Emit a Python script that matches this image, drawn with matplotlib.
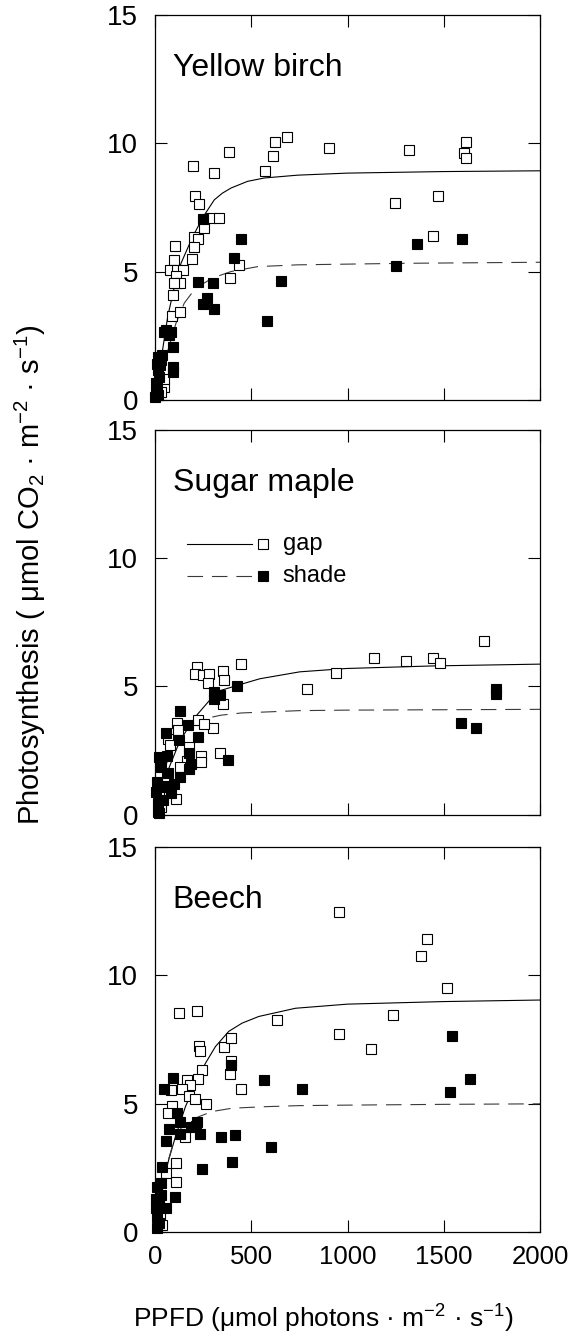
import matplotlib
matplotlib.use('Agg')
import matplotlib.pyplot as plt

plt.rcParams['font.family'] = 'Liberation Sans'
plt.rcParams['mathtext.fontset'] = 'custom'
plt.rcParams['mathtext.rm'] = 'Liberation Sans'
plt.rcParams['mathtext.it'] = 'Liberation Sans:italic'

# Yellow birch
birch_gap_x = [197, 308, 383, 210, 230, 291, 334, 256, 204, 225, 204, 192, 104, 100, 78, 114, 144, 109, 114, 130,
               99, 95, 88, 128, 435, 390, 570, 615, 625, 686, 904, 1318, 1249, 1444, 1469, 1606, 1614, 1614, 48, 45, 30]
birch_gap_y = [9.12, 8.83, 9.66, 7.95, 7.61, 7.10, 7.10, 6.68, 6.34, 6.26, 5.97, 5.47, 6.01, 5.45, 5.04, 5.06, 5.04, 4.81, 4.57, 4.55,
               4.57, 4.09, 3.27, 3.43, 5.27, 4.75, 8.91, 9.48, 10.04, 10.23, 9.82, 9.71, 7.68, 6.38, 7.95, 9.61, 10.03, 9.40, 0.49, 0.81, 0.30]
birch_shade_x = [251, 445, 409, 222, 301, 270, 248, 308, 584, 655, 1254, 1361, 1595, 57, 48, 74, 83, 92, 95, 95,
                 14, 31, 14, 5, 5, 0, 20, 25, 10, 35, 8, 18]
birch_shade_y = [7.06, 6.27, 5.51, 4.60, 4.57, 3.97, 3.74, 3.56, 3.06, 4.65, 5.23, 6.08, 6.25, 2.73, 2.66, 2.53, 2.66, 2.08, 1.27, 1.10,
                 1.69, 1.56, 1.17, 0.65, 0.32, 0.10, 0.90, 1.35, 0.45, 1.75, 1.40, 0.20]
birch_gap_fit_x = [0, 30, 66, 97, 135, 196, 251, 308, 350, 395, 481, 568, 741, 1000, 1500, 2000]
birch_gap_fit_y = [0, 1.5, 3.25, 4.29, 5.32, 6.36, 7.14, 7.79, 8.05, 8.25, 8.51, 8.64, 8.75, 8.83, 8.89, 8.92]
birch_shade_fit_x = [0, 50, 109, 152, 190, 239, 300, 395, 533, 741, 1300, 2000]
birch_shade_fit_y = [0, 1.5, 2.99, 3.77, 4.15, 4.48, 4.75, 5.00, 5.19, 5.26, 5.32, 5.36]

# Sugar maple
maple_gap_x = [1709, 1140, 1306, 1444, 1479, 940, 792, 447, 218, 208, 248, 282, 352, 360, 277, 352, 303, 336, 241, 239,
               114, 118, 225, 253, 178, 166, 132, 69, 80, 109, 31, 15, 45, 60, 20]
maple_gap_y = [6.77, 6.09, 5.98, 6.09, 5.92, 5.54, 4.90, 5.89, 5.76, 5.48, 5.44, 5.48, 5.60, 5.27, 5.14, 4.31, 3.37, 2.42, 2.29, 2.07,
               3.56, 3.30, 3.69, 3.54, 2.66, 2.10, 1.88, 2.94, 2.72, 0.61, 0.32, 0.10, 1.20, 1.50, 0.80]
maple_shade_x = [426, 305, 339, 308, 132, 170, 222, 123, 57, 178, 187, 378, 178, 132, 23, 31, 66, 48, 83, 14,
                 23, 1770, 1770, 1587, 1666, 10, 40, 100, 60, 5]
maple_shade_y = [5.01, 4.79, 4.66, 4.53, 4.05, 3.50, 3.04, 2.91, 3.20, 2.42, 2.00, 2.14, 1.77, 1.49, 2.27, 1.88, 1.62, 1.10, 0.84, 0.45,
                 0.06, 4.90, 4.72, 3.59, 3.37, 1.30, 0.60, 1.20, 2.30, 0.90]
maple_gap_fit_x = [0, 60, 130, 213, 282, 343, 431, 544, 752, 994, 1444, 2000]
maple_gap_fit_y = [0, 1.6, 2.9, 3.85, 4.45, 4.85, 5.05, 5.30, 5.57, 5.70, 5.80, 5.87]
maple_shade_fit_x = [0, 50, 100, 150, 230, 280, 340, 450, 750, 1000, 2000]
maple_shade_fit_y = [0, 1.8, 2.8, 3.3, 3.65, 3.78, 3.88, 3.97, 4.06, 4.08, 4.11]

# Beech
beech_gap_x = [957, 1411, 1381, 1518, 1236, 955, 1120, 636, 127, 218, 229, 236, 357, 397, 393, 390, 246, 224, 447, 265,
               83, 165, 182, 140, 177, 206, 87, 69, 154, 109, 111, 57, 15, 36, 25]
beech_gap_y = [12.44, 11.40, 10.74, 9.49, 8.44, 7.70, 7.12, 8.26, 8.52, 8.62, 7.26, 7.06, 7.21, 7.56, 6.64, 6.14, 6.30, 5.97, 5.56, 5.00,
               5.51, 5.91, 5.73, 5.56, 5.30, 5.19, 4.92, 4.65, 3.68, 2.70, 1.96, 2.29, 0.30, 0.27, 0.70]
beech_shade_x = [1542, 1636, 1534, 565, 763, 397, 94, 47, 71, 57, 113, 130, 185, 220, 215, 130, 234, 343, 416, 601,
                 400, 243, 36, 102, 12, 29, 21, 3, 12, 21, 9, 59, 30, 6]
beech_shade_y = [7.64, 5.95, 5.47, 5.92, 5.55, 6.49, 5.99, 5.56, 4.00, 3.55, 4.65, 4.30, 4.10, 4.30, 4.14, 3.82, 3.81, 3.70, 3.78, 3.30,
                 2.73, 2.44, 2.52, 1.38, 1.77, 1.90, 1.18, 0.92, 0.60, 0.34, 0.14, 0.92, 1.45, 1.30]
beech_gap_fit_x = [0, 45, 71, 106, 158, 210, 262, 314, 383, 452, 539, 730, 1000, 1500, 2000]
beech_gap_fit_y = [0, 2.03, 2.81, 3.71, 4.88, 5.79, 6.57, 7.22, 7.81, 8.13, 8.39, 8.71, 8.87, 8.97, 9.03]
beech_shade_fit_x = [0, 50, 100, 140, 175, 227, 296, 400, 574, 747, 1000, 1500, 2000]
beech_shade_fit_y = [0, 2.3, 3.6, 4.1, 4.3, 4.49, 4.69, 4.82, 4.88, 4.92, 4.94, 4.97, 4.99]

species = ['Yellow birch', 'Sugar maple', 'Beech']
panels = [
    (birch_gap_x, birch_gap_y, birch_shade_x, birch_shade_y,
     birch_gap_fit_x, birch_gap_fit_y, birch_shade_fit_x, birch_shade_fit_y),
    (maple_gap_x, maple_gap_y, maple_shade_x, maple_shade_y,
     maple_gap_fit_x, maple_gap_fit_y, maple_shade_fit_x, maple_shade_fit_y),
    (beech_gap_x, beech_gap_y, beech_shade_x, beech_shade_y,
     beech_gap_fit_x, beech_gap_fit_y, beech_shade_fit_x, beech_shade_fit_y),
]

fig = plt.figure(figsize=(5.78, 13.36), dpi=100)
bottoms = [0.7006, 0.390, 0.0778]
dash = (14, 8)
ms = 7

for i, (name, d) in enumerate(zip(species, panels)):
    gx, gy, sx, sy, gfx, gfy, sfx, sfy = d
    ax = fig.add_axes([0.2682, bottoms[i], 0.6661, 0.2885])

    ax.plot(gfx, gfy, color='black', lw=0.8, zorder=2)
    ax.plot(sfx, sfy, color='#3a3a3a', lw=0.8, dashes=dash, zorder=2)
    ax.plot(gx, gy, 's', ms=ms, mfc='white', mec='black', mew=0.8, ls='none', clip_on=False, zorder=3)
    ax.plot(sx, sy, 's', ms=ms, mfc='black', mec='black', mew=0.8, ls='none', clip_on=False, zorder=4)

    ax.set_xlim(0, 2000)
    ax.set_ylim(0, 15)
    ax.set_xticks([0, 500, 1000, 1500, 2000])
    ax.set_yticks([0, 5, 10, 15])
    ax.tick_params(direction='in', length=8.5, width=0.8, top=True, right=True)
    ax.tick_params(axis='y', labelsize=20, pad=12)
    ax.tick_params(axis='x', labelsize=18.5, pad=9)
    if i < 2:
        ax.tick_params(axis='x', labelbottom=False)
    for s in ax.spines.values():
        s.set_linewidth(0.9)

    ax.text(0.046, 0.862, name, transform=ax.transAxes, fontsize=23, va='center', ha='left')

    if i == 1:
        # legend drawn by hand: line, then marker, then text
        ax.plot([0.083, 0.252], [0.702, 0.702], color='black', lw=0.8, transform=ax.transAxes)
        ax.plot([0.083, 0.252], [0.619, 0.619], color='#3a3a3a', lw=0.8, dashes=dash, transform=ax.transAxes)
        ax.plot([0.281], [0.702], 's', ms=ms, mfc='white', mec='black', mew=0.8, transform=ax.transAxes)
        ax.plot([0.281], [0.619], 's', ms=ms, mfc='black', mec='black', mew=0.8, transform=ax.transAxes)
        ax.text(0.332, 0.702, 'gap', transform=ax.transAxes, fontsize=17, va='center', ha='left')
        ax.text(0.332, 0.619, 'shade', transform=ax.transAxes, fontsize=17, va='center', ha='left')

fig.text(0.052, 0.57, r'Photosynthesis ( μmol CO$_2$ · m$^{-2}$ · s$^{-1}$)',
         rotation=90, fontsize=21, ha='center', va='center')
fig.text(0.56, 0.013, r'PPFD (μmol photons · m$^{-2}$ · s$^{-1}$)',
         fontsize=19, ha='center', va='center')

plt.savefig('out.png', dpi=100)
